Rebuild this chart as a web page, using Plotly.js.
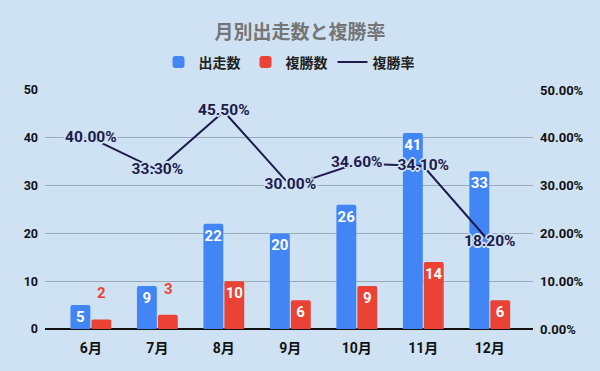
<!DOCTYPE html>
<html><head><meta charset="utf-8">
<script src="https://cdn.plot.ly/plotly-3.0.1.min.js"></script>
<style>html,body{margin:0;padding:0;background:#cfe2f3;}#chart{width:600px;height:371px;}</style>
</head><body><div id="chart"></div>
<script>
const categories = ['6月','7月','8月','9月','10月','11月','12月'];
const starts = [5, 9, 22, 20, 26, 41, 33];
const places = [2, 3, 10, 6, 9, 14, 6];
const placeRate = [0.400, 0.333, 0.455, 0.300, 0.346, 0.341, 0.182];
const leftTicks = [0, 10, 20, 30, 40, 50];

const FONT = 'Roboto, "Noto Sans CJK JP", sans-serif';
const BG = '#cfe2f3';
const halo = `1px 1px 0 ${BG}, -1px -1px 0 ${BG}, 1px -1px 0 ${BG}, -1px 1px 0 ${BG}, 0 2px 0 ${BG}, 0 -2px 0 ${BG}, 2px 0 0 ${BG}, -2px 0 0 ${BG}`;

const smallThreshold = 4;
const placePos = places.map(v => v < smallThreshold ? 'none' : 'inside');

const traces = [
  {type:'bar', name:'出走数', x:categories, y:starts, marker:{color:'#4285f4'},
   text:starts.map(String), textposition:'inside', insidetextanchor:'end', constraintext:'none',
   textfont:{color:'#ffffff', size:15, family:FONT, weight:'bold'}, hoverinfo:'skip'},
  {type:'bar', name:'複勝数', x:categories, y:places, marker:{color:'#ea4335'},
   text:places.map(String), textposition:placePos, insidetextanchor:'end', constraintext:'none',
   textfont:{color:'#ffffff', size:15, family:FONT, weight:'bold'}, hoverinfo:'skip'},
  {type:'scatter', mode:'lines+text', name:'複勝率', x:categories, y:placeRate, yaxis:'y2',
   line:{color:'#1f1b4e', width:2},
   text:placeRate.map(v => (v*100).toFixed(2)+'%'), textposition:'middle center',
   textfont:{color:'#1f1b4e', size:15.5, family:FONT, weight:'bold', shadow:halo}, cliponaxis:false, hoverinfo:'skip'}
];

const annotations = places.map((v,i) => v < smallThreshold ? {
  x: categories[i], y: v, xref:'x', yref:'y', text:String(v), showarrow:false,
  xshift: 11, yshift: 26, font:{color:'#ea4335', size:15, family:FONT, weight:'bold'}
} : null).filter(a => a);

const layout = {
  width:600, height:371,
  paper_bgcolor:BG, plot_bgcolor:BG,
  margin:{l:45, r:67, t:90, b:42},
  title:{text:'月別出走数と複勝率', x:0.5, xanchor:'center', y:0.912, yanchor:'middle',
    font:{family:'"Noto Sans CJK JP", sans-serif', size:19, color:'#757575', weight:'bold'}},
  showlegend:true,
  legend:{orientation:'h', x:0.5, xanchor:'center', y:1.115, yanchor:'middle',
    font:{family:'"Noto Sans CJK JP", sans-serif', size:14, color:'#222222', weight:'bold'},
    bgcolor:'rgba(0,0,0,0)', traceorder:'normal', itemwidth:30},
  barmode:'group', bargap:0.37, bargroupgap:0.05, barcornerradius:2,
  xaxis:{type:'category', range:[-0.69, 6.65], showgrid:false, zeroline:false, showline:false,
    ticks:'', tickfont:{family:FONT, size:14, color:'#111111', weight:'bold'}, ticklabelstandoff:9, fixedrange:true},
  yaxis:{range:[0,50], tickvals:leftTicks, showgrid:true, gridcolor:'#9aa9b8', gridwidth:1,
    zeroline:true, zerolinecolor:'#111111', zerolinewidth:1.5, showline:false, ticks:'',
    tickfont:{family:FONT, size:12.5, color:'#111111', weight:'bold'}, ticklabelstandoff:6},
  yaxis2:{range:[0,0.5], tickvals:leftTicks.map(v=>v/100), tickformat:'.2%', overlaying:'y', side:'right',
    showgrid:false, zeroline:false, showline:false, ticks:'',
    tickfont:{family:FONT, size:13, color:'#111111', weight:'bold'}, ticklabelstandoff:6},
  annotations:annotations
};

Plotly.newPlot('chart', traces, layout, {displayModeBar:false, staticPlot:true});
</script></body></html>
